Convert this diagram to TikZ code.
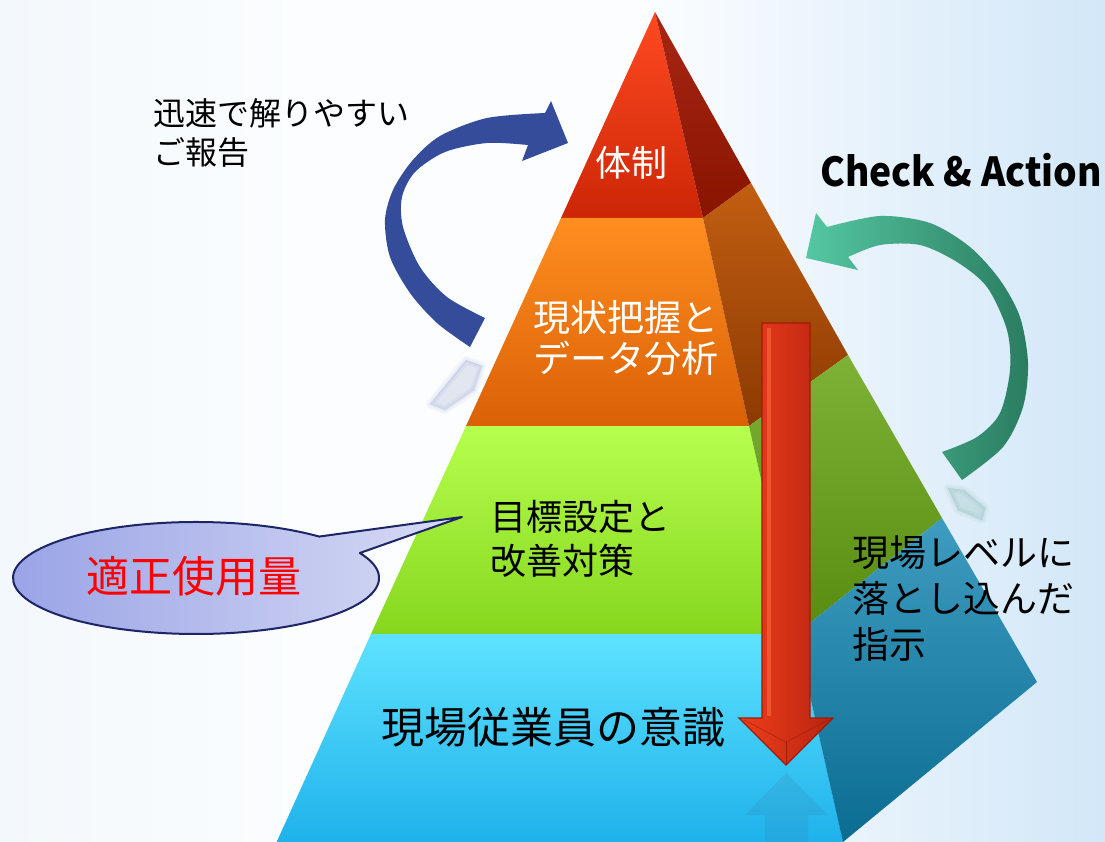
\documentclass[tikz,border=0pt]{standalone}
\usepackage{fontspec}
\setmainfont{Noto Sans CJK JP}
\newcommand{\fsz}[2]{\fontsize{#1}{#2}\selectfont}
\definecolor{redT}{HTML}{FF4A22}
\definecolor{redB}{HTML}{CC2606}
\definecolor{redST}{HTML}{A82614}
\definecolor{redSB}{HTML}{881400}
\definecolor{orT}{HTML}{FF8E20}
\definecolor{orB}{HTML}{DA6006}
\definecolor{orST}{HTML}{C25E12}
\definecolor{orSB}{HTML}{8C3A02}
\definecolor{grT}{HTML}{B6FF4E}
\definecolor{grB}{HTML}{86D61E}
\definecolor{grST}{HTML}{7DB236}
\definecolor{grSB}{HTML}{588C10}
\definecolor{blT}{HTML}{5EE2FF}
\definecolor{blB}{HTML}{1CB0EA}
\definecolor{blST}{HTML}{3E9CC0}
\definecolor{blSB}{HTML}{0B6C92}
\definecolor{navyA}{HTML}{344C9A}
\definecolor{tealL}{HTML}{55C7A2}
\definecolor{tealD}{HTML}{2A7C60}
\definecolor{arrL}{HTML}{EE3E1C}
\definecolor{arrM}{HTML}{D53016}
\definecolor{arrR}{HTML}{B82410}
\definecolor{arrE}{HTML}{A01A08}
\definecolor{arrHi}{HTML}{FF6E46}
\definecolor{reflC}{HTML}{3C6E96}
\definecolor{bubL}{HTML}{97A1E6}
\definecolor{bubR}{HTML}{D8DCF4}
\definecolor{bubE}{HTML}{1E2566}
\definecolor{bgL}{HTML}{F3F8FC}
\definecolor{bgM}{HTML}{FBFDFF}
\definecolor{bgR}{HTML}{D2E7F8}
\definecolor{pureRed}{HTML}{FF0000}
\begin{document}
\begin{tikzpicture}[x=1pt,y=-1pt,
  wtext/.style={text=white,inner sep=0pt},
  btext/.style={text=black,inner sep=0pt},
  softrefl/.style={opacity=0.045, line join=round},
  ]
\useasboundingbox (0,0) rectangle (1105,842);
% background
\fill[bgM] (0,0) rectangle (1105,842);
\shade[left color=bgL, right color=bgM] (0,0) rectangle (300,842);
\shade[left color=bgM, right color=bgR] (650,0) rectangle (1105,842);

% ---- faint reflections of the curved arrows (behind the pyramid)
\foreach \w in {0,4,8} {
  \fill[navyA, softrefl, draw=navyA, line width=\w pt] (466,360) -- (482,366) -- (474,390) -- (445,410) -- (430,404) -- cycle;
  \fill[tealD, softrefl, draw=tealD, line width=\w pt] (948,488) -- (964,490) -- (985,508) -- (982,520) -- (958,510) -- cycle;
}

% ---- pyramid front bands
\shade[top color=redT, bottom color=redB] (655,12) -- (561,218) -- (703,218) -- cycle;
\shade[top color=orT, bottom color=orB] (561,218) -- (466,426) -- (749,426) -- (703,218) -- cycle;
\shade[top color=grT, bottom color=grB] (466,426) -- (371,634) -- (796,634) -- (749,426) -- cycle;
\shade[top color=blT, bottom color=blB] (371,634) -- (273,850) -- (845,850) -- (796,634) -- cycle;
% ---- pyramid side bands
\shade[top color=redST, bottom color=redSB] (655,12) -- (703,218) -- (751,183) -- cycle;
\shade[top color=orST, bottom color=orSB] (703,218) -- (749,426) -- (848,355) -- (751,183) -- cycle;
\shade[top color=grST, bottom color=grSB] (749,426) -- (796,634) -- (942,518) -- (848,355) -- cycle;
\shade[shading angle=30, top color=blST, bottom color=blSB] (796,634) -- (843,842) -- (1037,682) -- (942,518) -- cycle;

% ---- faint reflection of the red arrow
\fill[reflC, opacity=0.14] (786,773) -- (828,815) -- (808,815) -- (808,842) -- (765,842) -- (765,815) -- (745,815) -- cycle;

% ---- red downward arrow
\shade[left color=arrL, middle color=arrM, right color=arrR, draw=arrE, line width=1.2pt]
  (762,323) -- (810,323) -- (810,718) -- (833,718) -- (786,765) -- (739,718) -- (762,718) -- cycle;
\fill[arrHi, opacity=0.55] (767,328) rectangle (771,716);
\draw[arrE, line width=0.8pt] (786,765) -- (786,742);
\draw[arrE, line width=0.8pt, opacity=0.6] (744,720) -- (786,742) -- (828,720);

% ---- blue curved arrow
\fill[navyA] plot[smooth] coordinates {(470,347) (437,323) (410,293) (390,257) (385,220) (393,190) (412,161) (440,136) (487,118) (545,113)}
  -- (551,101) -- (568,143) -- (522,161) --
  plot[smooth] coordinates {(528,145) (487,143) (445,152) (415,172) (402,197) (403,227) (420,267) (447,297) (485,318)} -- cycle;

% ---- green curved arrow
\shade[left color=tealL, right color=tealD] plot[smooth] coordinates {(827,227) (880,216) (930,223) (970,247) (1000,280) (1020,317) (1028,363) (1023,407) (1003,447) (962,480)}
  -- plot[smooth] coordinates {(942,452) (977,437) (1000,413) (1010,370) (1007,330) (987,287) (957,262) (920,245) (880,245) (848,257)}
  -- (858,270) -- (806,258) -- (816,213) -- cycle;

% ---- speech bubble
\shade[left color=bubL, right color=bubR, draw=bubE, line width=2pt, line join=round]
  (462,517) -- (359.8,553) arc[start angle=-26.5, end angle=312.3, x radius=183, y radius=56] -- cycle;
\node[inner sep=0pt, text=pureRed, font=\fsz{43}{50}] (tekisei) at (194,576) {適正使用量};

% ---- texts
\node[wtext, font=\fsz{36}{42}] (taisei) at (631,163) {体制};
\node[wtext, font=\fsz{37}{41}, align=left, anchor=west] (genjo) at (533,338) {現状把握と\\データ分析};
\node[btext, font=\fsz{36}{44}, align=left, anchor=west] (mokuhyo) at (490,539) {目標設定と\\改善対策};
\node[btext, font=\fsz{43}{50}] (ishiki) at (553,727) {現場従業員の意識};
\node[btext, font=\fsz{37}{46}, align=left, anchor=west] (shiji) at (852,599) {現場レベルに\\落とし込んだ\\指示};
\node[btext, font=\fsz{32}{39}, align=left, anchor=west] (hokoku) at (153,133) {迅速で解りやすい\\ご報告};
\node[btext, font=\bfseries\fsz{40}{46}, anchor=west] (check) at (820,170) {\scalebox{0.93}[1]{Check \& Action}};
\end{tikzpicture}
\end{document}
